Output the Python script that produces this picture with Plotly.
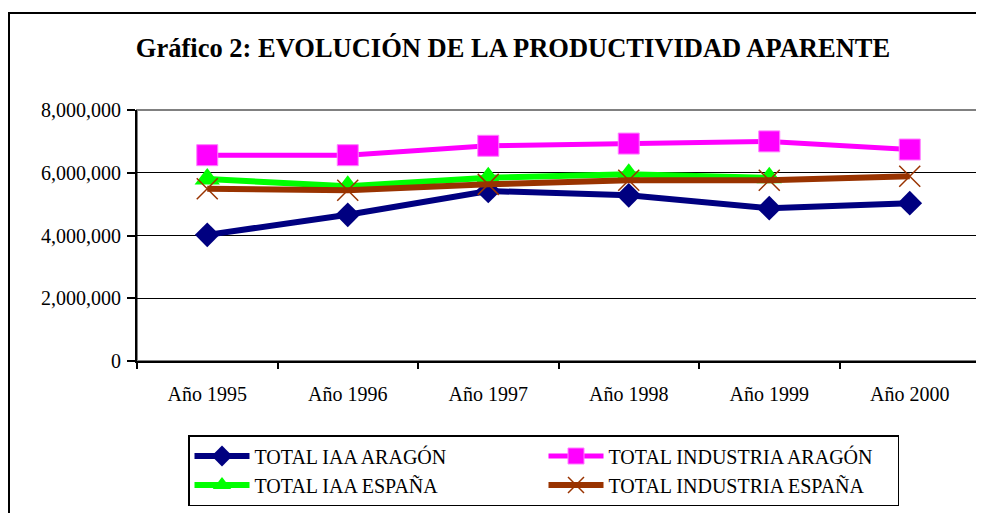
import plotly.graph_objects as go

categories = ["Año 1995", "Año 1996", "Año 1997", "Año 1998", "Año 1999", "Año 2000"]
iaa_aragon = [4020000, 4660000, 5420000, 5280000, 4870000, 5030000]
industria_aragon = [6560000, 6560000, 6860000, 6930000, 7000000, 6740000]
iaa_espana = [5800000, 5570000, 5840000, 5950000, 5840000, None]
industria_espana = [5490000, 5440000, 5630000, 5760000, 5760000, 5890000]
y_ticks = [0, 2000000, 4000000, 6000000, 8000000]

FONT = "Liberation Serif, Times New Roman, serif"

# page has an 8px body margin; figure coordinates below are page coords - 8
W, H = 976, 505
L, R, T, B = 129, 4, 102, 152
PW, PH = W - L - R, H - T - B

fig = go.Figure()
fig.add_trace(go.Scatter(x=categories, y=iaa_aragon, name="TOTAL IAA ARAGÓN",
                         mode="lines+markers",
                         line=dict(color="#000080", width=6),
                         marker=dict(symbol="diamond", size=19, color="#000080")))
fig.add_trace(go.Scatter(x=categories, y=industria_aragon, name="TOTAL INDUSTRIA ARAGÓN",
                         mode="lines+markers",
                         line=dict(color="#FF00FF", width=5),
                         marker=dict(symbol="square", size=21, color="#FF00FF",
                                     line=dict(color="#FF80FF", width=1))))
fig.add_trace(go.Scatter(x=categories, y=iaa_espana, name="TOTAL IAA ESPAÑA",
                         mode="lines+markers",
                         line=dict(color="#00FF00", width=6),
                         marker=dict(symbol="triangle-up", size=22, color="#00FF00")))
fig.add_trace(go.Scatter(x=categories, y=industria_espana, name="TOTAL INDUSTRIA ESPAÑA",
                         mode="lines+markers",
                         line=dict(color="#993300", width=6),
                         marker=dict(symbol="x-thin", size=21,
                                     line=dict(color="#993300", width=1.5))))

# plot-area frame (grey) and outer chart border
fig.add_shape(type="rect", xref="paper", yref="paper", x0=0, x1=1, y0=0, y1=1,
              line=dict(color="#808080", width=2), layer="below")
fig.add_shape(type="rect", xref="paper", yref="paper",
              x0=(1 - L) / PW, x1=1.2, y0=-1.0, y1=(T + PH - 5) / PH,
              line=dict(color="black", width=2), layer="below")

fig.update_layout(
    width=W, height=H,
    margin=dict(l=L, r=R, t=T, b=B, pad=0),
    paper_bgcolor="white", plot_bgcolor="white",
    font=dict(family=FONT, size=20, color="black"),
    title=dict(text="<b>Gráfico 2: EVOLUCIÓN DE LA PRODUCTIVIDAD APARENTE</b>",
               x=505 / W, xanchor="center", y=1 - 40 / H, yanchor="middle",
               font=dict(family=FONT, size=26.5, color="black")),
    showlegend=True,
    legend=dict(orientation="h", x=(180 - L) / PW, xanchor="left",
                y=(T + PH - 427) / PH, yanchor="top",
                bgcolor="white", bordercolor="black", borderwidth=1.5,
                entrywidth=284, entrywidthmode="pixels", itemwidth=55,
                font=dict(family=FONT, size=20, color="black"),
                traceorder="normal", tracegroupgap=0),
    hovermode=False,
)
fig.update_xaxes(type="category", range=[-0.5, 5.5], showline=True, linecolor="black",
                 linewidth=2, ticks="outside", tickson="boundaries", ticklen=6,
                 tickcolor="black", tickwidth=2, showgrid=False,
                 ticklabelstandoff=14,
                 tickfont=dict(family=FONT, size=20, color="black"))
fig.update_yaxes(range=[0, 8000000], tickvals=y_ticks, tickformat=",d",
                 showline=True, linecolor="black", linewidth=2,
                 ticks="outside", ticklen=8, tickcolor="black", tickwidth=2,
                 showgrid=True, gridcolor="black", gridwidth=1, zeroline=False,
                 ticklabelstandoff=2,
                 tickfont=dict(family=FONT, size=20, color="black"))

fig.write_html("out.html")
